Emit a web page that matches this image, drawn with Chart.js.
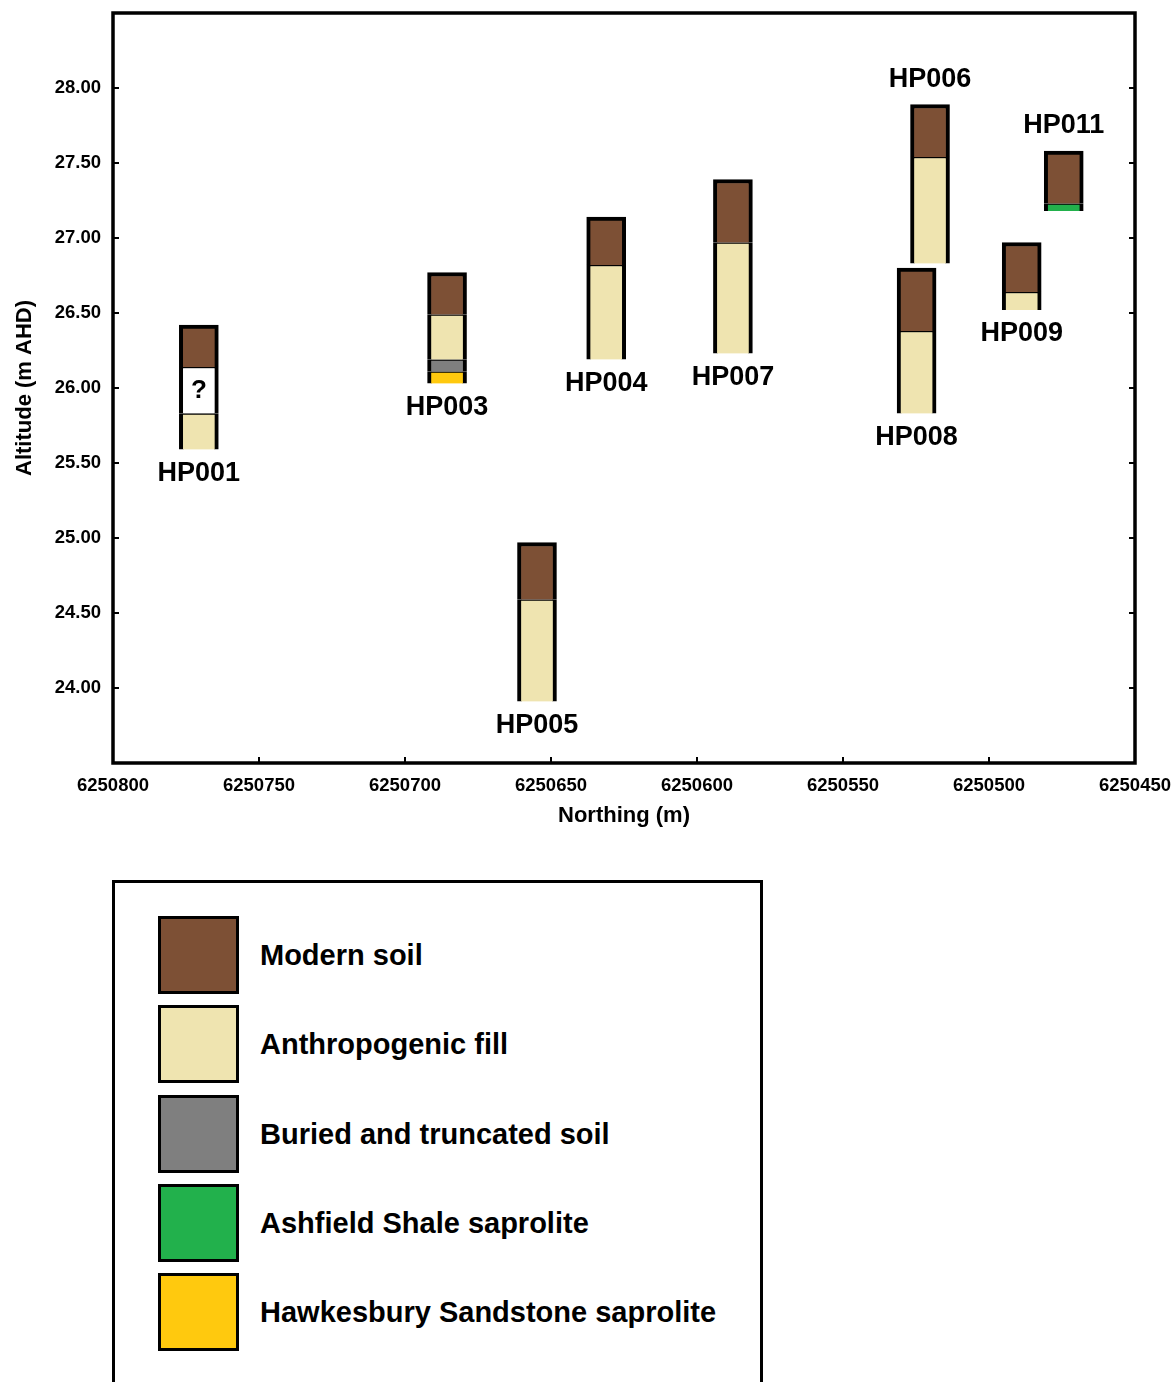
<!DOCTYPE html>
<html>
<head>
<meta charset="utf-8">
<title>Borehole profiles</title>
<script src="https://cdn.jsdelivr.net/npm/chart.js@4.4.0/dist/chart.umd.min.js"></script>
<style>
	body { margin: 0; background: #fff; font-family: "Liberation Sans", Arial, sans-serif; }
	#page { position: relative; width: 1174px; height: 1382px; overflow: hidden; }
	#profile-chart { position: absolute; left: 0; top: 0; }
	#legend { position: absolute; left: 112px; top: 880px; width: 651px; height: 600px; border: 3px solid #000; box-sizing: border-box; }
	.swatch { position: absolute; left: 43px; width: 81px; height: 78px; border: 3.5px solid #000; box-sizing: border-box; }
	.legend-text { position: absolute; left: 145px; height: 78px; font: bold 29px "Liberation Sans", Arial, sans-serif; line-height: 78px; color: #000; white-space: nowrap; }
</style>
</head>
<body>
<div id="page">
	<canvas id="profile-chart" width="1174" height="850"></canvas>
	<div id="legend"></div>
</div>
<script>
// **DATOS**
const boreholes = ['HP001', 'HP003', 'HP005', 'HP004', 'HP007', 'HP008', 'HP006', 'HP009', 'HP011'];
const northing = [6250770.6, 6250685.6, 6250654.8, 6250631.1, 6250587.7, 6250524.8, 6250520.2, 6250488.8, 6250474.4];
const labelSide = ['below', 'below', 'below', 'below', 'below', 'below', 'above', 'below', 'above'];

// intervalos [base, techo] en m AHD, uno por sondeo (null = capa ausente)
const modernSoil = [[26.14, 26.42], [26.49, 26.77], [24.59, 24.97], [26.82, 27.14], [26.97, 27.39], [26.38, 26.80], [27.54, 27.89], [26.64, 26.97], [27.23, 27.58]];
const anthropogenicFill = [[25.59, 25.83], [26.19, 26.49], [23.91, 24.59], [26.19, 26.82], [26.23, 26.97], [25.83, 26.38], [26.83, 27.54], [26.52, 26.64], null];
const unknownLayer = [[25.83, 26.14], null, null, null, null, null, null, null, null];
const buriedSoil = [null, [26.11, 26.19], null, null, null, null, null, null, null];
const ashfieldShale = [null, null, null, null, null, null, null, null, [27.18, 27.23]];
const hawkesburySandstone = [null, [26.03, 26.11], null, null, null, null, null, null, null];

const layerNames = ['Modern soil', 'Anthropogenic fill', 'Buried and truncated soil', 'Ashfield Shale saprolite', 'Hawkesbury Sandstone saprolite'];
const layerColors = ['#7d5035', '#efe4b0', '#7f7f7f', '#22b14c', '#ffc90e'];

const xTicks = [6250800, 6250750, 6250700, 6250650, 6250600, 6250550, 6250500, 6250450];
const yTicks = [24.0, 24.5, 25.0, 25.5, 26.0, 26.5, 27.0, 27.5, 28.0];

const BOLD = '"Liberation Sans", Arial, sans-serif';

// **UTILIDADES**
const allLayers = [modernSoil, anthropogenicFill, unknownLayer, buriedSoil, ashfieldShale, hawkesburySandstone];

function columnTop(i) {
	return Math.max(...allLayers.filter(l => l[i]).map(l => l[i][1]));
}

function columnBase(i) {
	return Math.min(...allLayers.filter(l => l[i]).map(l => l[i][0]));
}

function toPoints(intervals) {
	return intervals
		.map((r, i) => r ? { x: northing[i], y: r, hole: i } : null)
		.filter(Boolean);
}

function segmentBorder(ctx) {
	const raw = ctx.raw;
	const isTop = raw && raw.y[1] === columnTop(raw.hole);
	return { left: 4, right: 4, top: isTop ? 4 : 1.5, bottom: 0 };
}

function makeDataset(label, intervals, color) {
	return {
		label,
		data: toPoints(intervals),
		backgroundColor: color,
		borderColor: '#000',
		borderWidth: segmentBorder,
		borderSkipped: false,
		barThickness: 39,
		grouped: false,
	};
}

// **PLUGIN: marco, marcas hacia dentro, rótulos**
const framePlugin = {
	id: 'frame',
	afterDatasetsDraw(chart) {
		const { ctx, scales: { x, y } } = chart;
		ctx.save();
		ctx.fillStyle = '#000';
		ctx.textAlign = 'center';
		ctx.textBaseline = 'middle';
		ctx.font = 'bold 27px ' + BOLD;
		boreholes.forEach((name, i) => {
			const px = x.getPixelForValue(northing[i]);
			const py = labelSide[i] === 'above'
				? y.getPixelForValue(columnTop(i)) - 25
				: y.getPixelForValue(columnBase(i)) + 24;
			ctx.fillText(name, px, py);
		});
		// signo de interrogación en la capa desconocida
		const meta = chart.getDatasetMeta(2);
		ctx.font = 'bold 26px ' + BOLD;
		meta.data.forEach(bar => {
			ctx.fillText('?', bar.x, (bar.y + bar.base) / 2 + 1);
		});
		ctx.restore();
	},
	afterDraw(chart) {
		const { ctx, chartArea: a, scales: { x, y } } = chart;
		ctx.save();
		ctx.strokeStyle = '#000';
		ctx.lineWidth = 2;
		ctx.beginPath();
		y.ticks.forEach(t => {
			const py = y.getPixelForValue(t.value);
			ctx.moveTo(a.left, py); ctx.lineTo(a.left + 6, py);
			ctx.moveTo(a.right, py); ctx.lineTo(a.right - 6, py);
		});
		x.ticks.forEach(t => {
			const px = x.getPixelForValue(t.value);
			ctx.moveTo(px, a.bottom); ctx.lineTo(px, a.bottom - 6);
		});
		ctx.stroke();
		ctx.lineWidth = 3.5;
		ctx.strokeRect(a.left, a.top, a.right - a.left, a.bottom - a.top);
		ctx.restore();
	},
};

// **GRÁFICO**
function createProfileChart() {
	const datasets = [
		makeDataset(layerNames[0], modernSoil, layerColors[0]),
		makeDataset(layerNames[1], anthropogenicFill, layerColors[1]),
		makeDataset('Unknown', unknownLayer, '#ffffff'),
		makeDataset(layerNames[2], buriedSoil, layerColors[2]),
		makeDataset(layerNames[3], ashfieldShale, layerColors[3]),
		makeDataset(layerNames[4], hawkesburySandstone, layerColors[4]),
	];

	new Chart(document.getElementById('profile-chart'), {
		type: 'bar',
		data: { datasets },
		plugins: [framePlugin],
		options: {
			responsive: false,
			animation: false,
			layout: { padding: { top: 13, right: 39, left: 0, bottom: 0 } },
			plugins: { legend: { display: false }, tooltip: { enabled: false } },
			scales: {
				x: {
					type: 'linear',
					reverse: true,
					offset: false,
					min: 6250450,
					max: 6250800,
					afterBuildTicks: s => { s.ticks = xTicks.map(v => ({ value: v })); },
					afterFit: s => { s.height = 87; s.paddingLeft = 0; s.paddingRight = 0; },
					grid: { display: false, drawTicks: false },
					border: { display: false },
					ticks: {
						padding: 12,
						color: '#000',
						maxRotation: 0,
						font: { family: BOLD, size: 18.5, weight: 'bold' },
						callback: v => String(v),
					},
					title: {
						display: true,
						text: 'Northing (m)',
						color: '#000',
						font: { family: BOLD, size: 22, weight: 'bold' },
						padding: { top: 0, bottom: 21 },
					},
				},
				y: {
					type: 'linear',
					min: 23.5,
					max: 28.5,
					afterBuildTicks: s => { s.ticks = yTicks.map(v => ({ value: v })); },
					afterFit: s => { s.width = 113; s.paddingTop = 0; s.paddingBottom = 0; },
					grid: { display: false, drawTicks: false },
					border: { display: false },
					ticks: {
						padding: 12,
						color: '#000',
						font: { family: BOLD, size: 18.5, weight: 'bold' },
						callback: v => Number(v).toFixed(2),
					},
					title: {
						display: true,
						text: 'Altitude (m AHD)',
						color: '#000',
						font: { family: BOLD, size: 22, weight: 'bold' },
						padding: { top: 12, bottom: 0 },
					},
				},
			},
		},
	});
}

// **LEYENDA**
function buildLegend() {
	const legend = document.getElementById('legend');
	layerNames.forEach((name, i) => {
		const top = 33 + i * 89.3;
		const sw = document.createElement('div');
		sw.className = 'swatch';
		sw.style.top = top + 'px';
		sw.style.background = layerColors[i];
		const txt = document.createElement('div');
		txt.className = 'legend-text';
		txt.style.top = top + 'px';
		txt.textContent = name;
		legend.appendChild(sw);
		legend.appendChild(txt);
	});
}

createProfileChart();
buildLegend();
</script>
</body>
</html>
